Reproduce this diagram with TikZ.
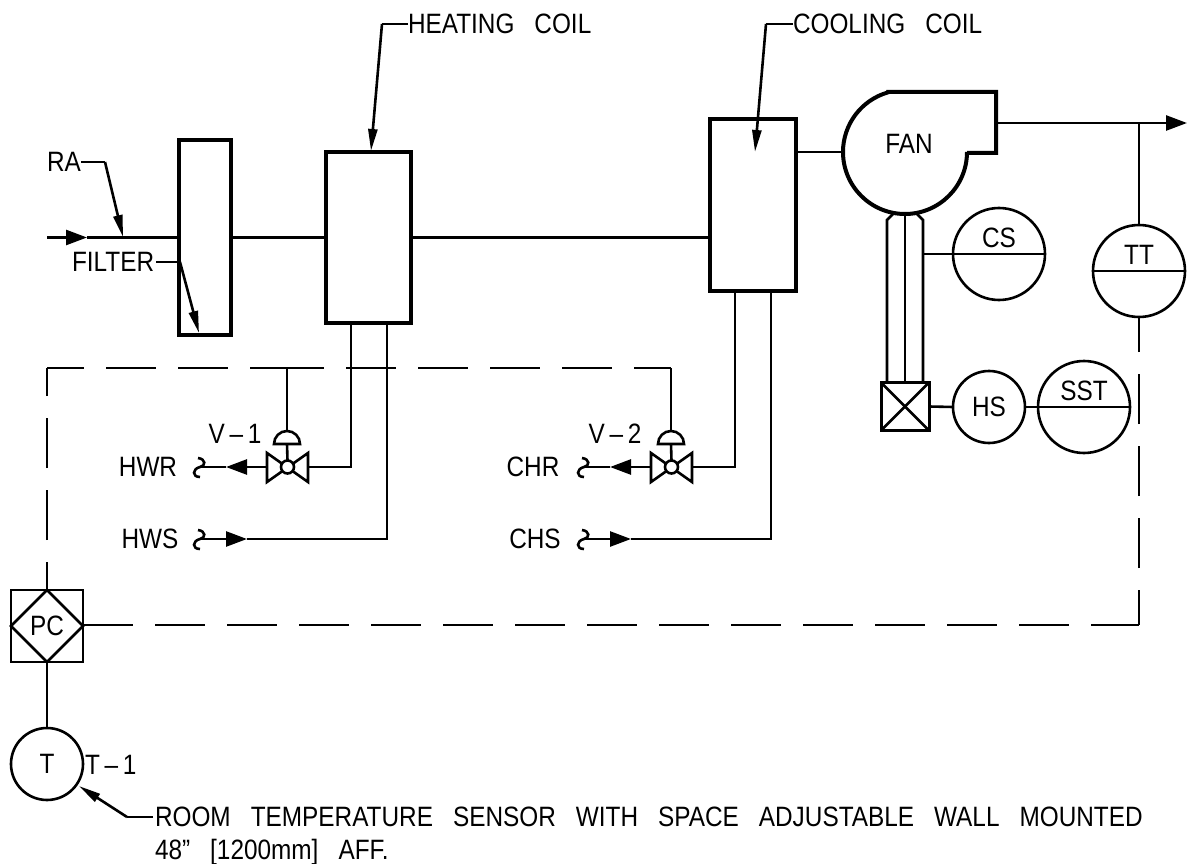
\documentclass[tikz,border=0pt]{standalone}
\usepackage{fontspec}
\setmainfont[FakeStretch=0.87]{Liberation Sans}
\usetikzlibrary{arrows.meta,shapes.geometric}

\tikzset{
  x=1pt,y=-1pt,
  every node/.style={inner sep=0pt,outer sep=0pt},
  every path/.style={line width=2.6pt},
  tag/.style={font={\fontsize{28}{33}\selectfont\spaceskip 20pt\relax}},
  unit/.style={draw,rectangle,line width=4pt},
  bubble/.style={draw,circle,tag},
  flow/.style={-{Triangle[length=21pt,width=15pt]}},
  leader/.style={-{Triangle[length=22pt,width=9pt]}},
  signal/.style={dash pattern=on 50pt off 22pt},
}

\begin{document}
\begin{tikzpicture}
\useasboundingbox (0,0) rectangle (1187,864);

% Air side units
\node[unit,minimum width=52,minimum height=194] (filter) at (205,237.5) {};
\node[unit,minimum width=85,minimum height=171] (heat) at (368.5,237.5) {};
\node[unit,minimum width=86,minimum height=172] (cool) at (753,205) {};

% Duct
\coordinate (inlet) at (47,237.5);
\coordinate (inlethead) at (87,237.5);
\draw[flow] (inlet) -- (inlethead);
\draw (inlethead) -- (filter.west);
\draw (filter.east) -- (heat.west);
\draw (heat.east) -- (cool.west |- heat.east);

% Fan
\coordinate (fanin) at (843,152);
\coordinate (fanout) at (996,123);
\draw[line width=4pt,line join=miter] (888,92) -- (996,92) -- (996,153) -- (967,153) -- (967,152) arc (0:254:62) -- cycle;
\node[tag] (fanname) at (909,144) {FAN};
\draw (cool.east |- fanin) -- (fanin);
\coordinate (outlet) at (1187,123);
\draw[flow] (fanout) -- (outlet);

% Motor and shaft
\node[draw,rectangle,line width=3pt,minimum size=48] (motor) at (905,406.5) {};
\draw (motor.north west) -- (motor.south east);
\draw (motor.south west) -- (motor.north east);
\draw (905,213) -- (motor.north);
\draw (893,214) -- (887,220) -- ([xshift=-18]motor.north);
\draw (917,214) -- (923,220) -- ([xshift=18]motor.north);

% Instruments
\node[bubble,minimum size=92] (cs) at (999,254) {};
\node[tag] (csname) at (999,238) {CS};
\draw (cs.west) -- (cs.east);
\draw (923,254) -- (cs.west);
\node[bubble,minimum size=72] (hs) at (989,407) {HS};
\node[bubble,minimum size=92] (sst) at (1084,407) {};
\node[tag] (sstname) at (1084,391) {SST};
\draw (sst.west) -- (sst.east);
\draw (motor.east) -- (hs.west);
\draw (hs.east) -- (sst.west);
\node[bubble,minimum size=92] (tt) at (1139,271) {};
\node[tag] (ttname) at (1139,255) {TT};
\draw (tt.west) -- (tt.east);
\coordinate (tttap) at (1139,123);
\draw (tttap) -- (tt.north);

% Controller and sensor
\node[draw,rectangle,minimum size=72] (pcbox) at (47,626) {};
\node[draw,diamond,tag,minimum size=72] (pc) at (47,626) {PC};
\node[bubble,minimum size=72] (t) at (47,764) {T};
\node[tag,anchor=west] (tname) at (85,765) {T\,–\,1};
\draw (pcbox.south) -- (t.north);

% Valve V-1
\coordinate (v1top) at (287,431);
\coordinate (v1foot) at (287,444);
\coordinate (v1in) at (308,467);
\coordinate (v1out) at (267,467);
\draw[line join=miter] (267,453) -- (267,482) -- (308,453) -- (308,482) -- cycle;
\node[draw,circle,fill=white,minimum size=13] (v1) at (287.5,467) {};
\draw (274,444) arc (180:360:13) -- cycle;
\draw (v1foot) -- (v1.north);
\node[tag] (v1name) at (235,434) {V\,–\,1};

% Valve V-2
\coordinate (v2top) at (671,431);
\coordinate (v2foot) at (671,444);
\coordinate (v2in) at (692,467);
\coordinate (v2out) at (651,467);
\draw[line join=miter] (651,453) -- (651,482) -- (692,453) -- (692,482) -- cycle;
\node[draw,circle,fill=white,minimum size=13] (v2) at (671.5,467) {};
\draw (658,444) arc (180:360:13) -- cycle;
\draw (v2foot) -- (v2.north);
\node[tag] (v2name) at (615,434) {V\,–\,2};

% Hot water
\coordinate (hwr) at (226,467);
\coordinate (hws) at (247,539);
\draw (heat.south -| 351,0) |- (v1in);
\draw[flow] (v1out) -- (hwr);
\draw (hwr) -- (200,467);
\draw (198,458) .. controls (206,459) and (206,466) .. (200,467) .. controls (192,469) and (192,477) .. (200,477);
\draw[flow] (200,539) -- (hws);
\draw (hws) -| (387,323);
\draw (198,530) .. controls (206,531) and (206,538) .. (200,539) .. controls (192,541) and (192,549) .. (200,549);
\node[tag] (hwrname) at (148,467) {HWR};
\node[tag] (hwsname) at (150,539) {HWS};

% Chilled water
\coordinate (chr) at (610,467);
\coordinate (chs) at (631,539);
\draw (cool.south -| 735,0) |- (v2in);
\draw[flow] (v2out) -- (chr);
\draw (chr) -- (584,467);
\draw (582,458) .. controls (590,459) and (590,466) .. (584,467) .. controls (576,469) and (576,477) .. (584,477);
\draw[flow] (584,539) -- (chs);
\draw (chs) -| (771,291);
\draw (582,530) .. controls (590,531) and (590,538) .. (584,539) .. controls (576,541) and (576,549) .. (584,549);
\node[tag] (chrname) at (533,467) {CHR};
\node[tag] (chsname) at (535,539) {CHS};

% Control signal
\coordinate (nwcorner) at (47,368);
\coordinate (secorner) at (1139,625);
\draw[signal,dash phase=22pt] (pcbox.north) -- (nwcorner);
\draw[signal,dash phase=13pt] (nwcorner) -- (287,368);
\draw[signal,dash phase=13pt] (287,368) -- (671,368);
\draw (287,368) -- (v1top);
\draw (671,368) -- (v2top);
\draw[signal] (pc.east |- secorner) -- (secorner);
\draw[signal,dash phase=15pt] (secorner) -- (tt.south);

% Notes
\node[tag,anchor=west] (ranote) at (47,162) {RA};
\coordinate (raknee) at (105,162);
\draw (81,162) -- (raknee);
\draw[leader] (raknee) -- (123,237);
\node[tag,anchor=west] (filternote) at (72,262) {FILTER};
\coordinate (filterknee) at (180,262);
\draw (156,262) -- (filterknee);
\draw[leader] (filterknee) -- (199,333);
\node[tag,anchor=west] (heatnote) at (408,24) {HEATING COIL};
\coordinate (heatknee) at (382,24);
\draw (heatnote.west) -- (heatknee);
\draw[leader] (heatknee) -- (371,151);
\node[tag,anchor=west] (coolnote) at (793,24) {COOLING COIL};
\coordinate (coolknee) at (766,24);
\draw (coolnote.west) -- (coolknee);
\draw[leader] (coolknee) -- (755,152);
\node[tag,anchor=north west,align=left] (sensornote) at (155,807) {ROOM TEMPERATURE SENSOR WITH SPACE ADJUSTABLE WALL MOUNTED\\48” [1200mm] AFF.};
\coordinate (sensorknee) at (127,817);
\draw (153,817) -- (sensorknee);
\draw[leader] (sensorknee) -- (79,786);
\end{tikzpicture}
\end{document}
